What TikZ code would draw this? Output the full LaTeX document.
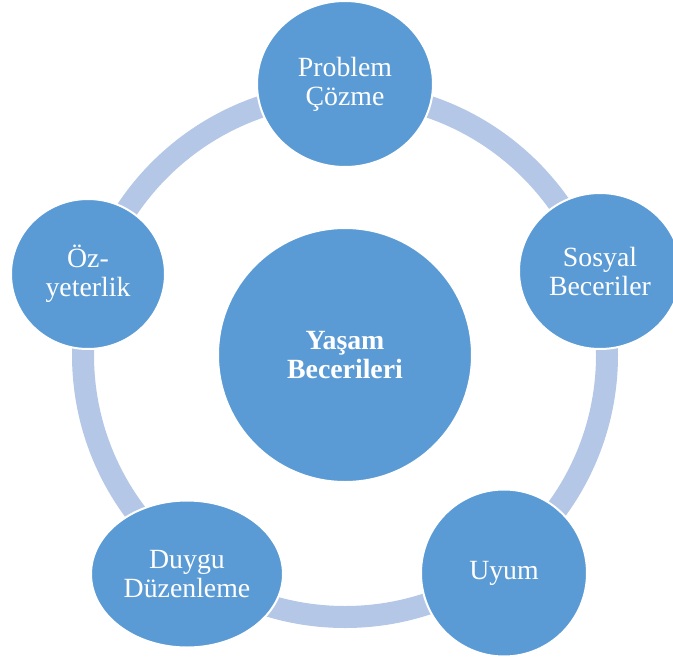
\documentclass[tikz,border=0pt]{standalone}
\usepackage{fontspec}
\setmainfont{Liberation Serif}
\usepackage{xcolor}
\usepackage{tikz}
\usetikzlibrary{shapes.geometric}

\definecolor{kutu}{HTML}{5B9BD5}
\definecolor{halka}{HTML}{B4C7E7}

\tikzset{
    beceri/.style={ellipse,fill=kutu,draw=white,line width=2pt,inner sep=0pt,
        text=white,align=center,font=\fontsize{27.8}{29}\selectfont}
}

\begin{document}
\begin{tikzpicture}[x=1pt,y=-1pt]
        \clip (0,0) rectangle (673,659);
        \draw (345,355) coordinate (o);

        \draw[line width=22pt,draw=halka] (o) circle[radius=262pt];

        \node[beceri,minimum width=254pt,minimum height=254pt,font=\fontsize{27.8}{29}\selectfont\bfseries] (merkez) at (o) {Yaşam\\Becerileri};
        \node[beceri,minimum width=176pt,minimum height=166pt] (problem) at (345,84) {Problem\\Çözme};
        \node[beceri,minimum width=162pt,minimum height=156pt] (sosyal) at (600,271) {Sosyal\\Beceriler};
        \node[beceri,minimum width=166pt,minimum height=167pt] (uyum) at (504,573) {Uyum};
        \node[beceri,minimum width=192pt,minimum height=147pt] (duygu) at (187,574) {Duygu\\Düzenleme};
        \node[beceri,minimum width=154pt,minimum height=150pt] (oz) at (88,274) {Öz-\\yeterlik};
    \end{tikzpicture}
\end{document}
